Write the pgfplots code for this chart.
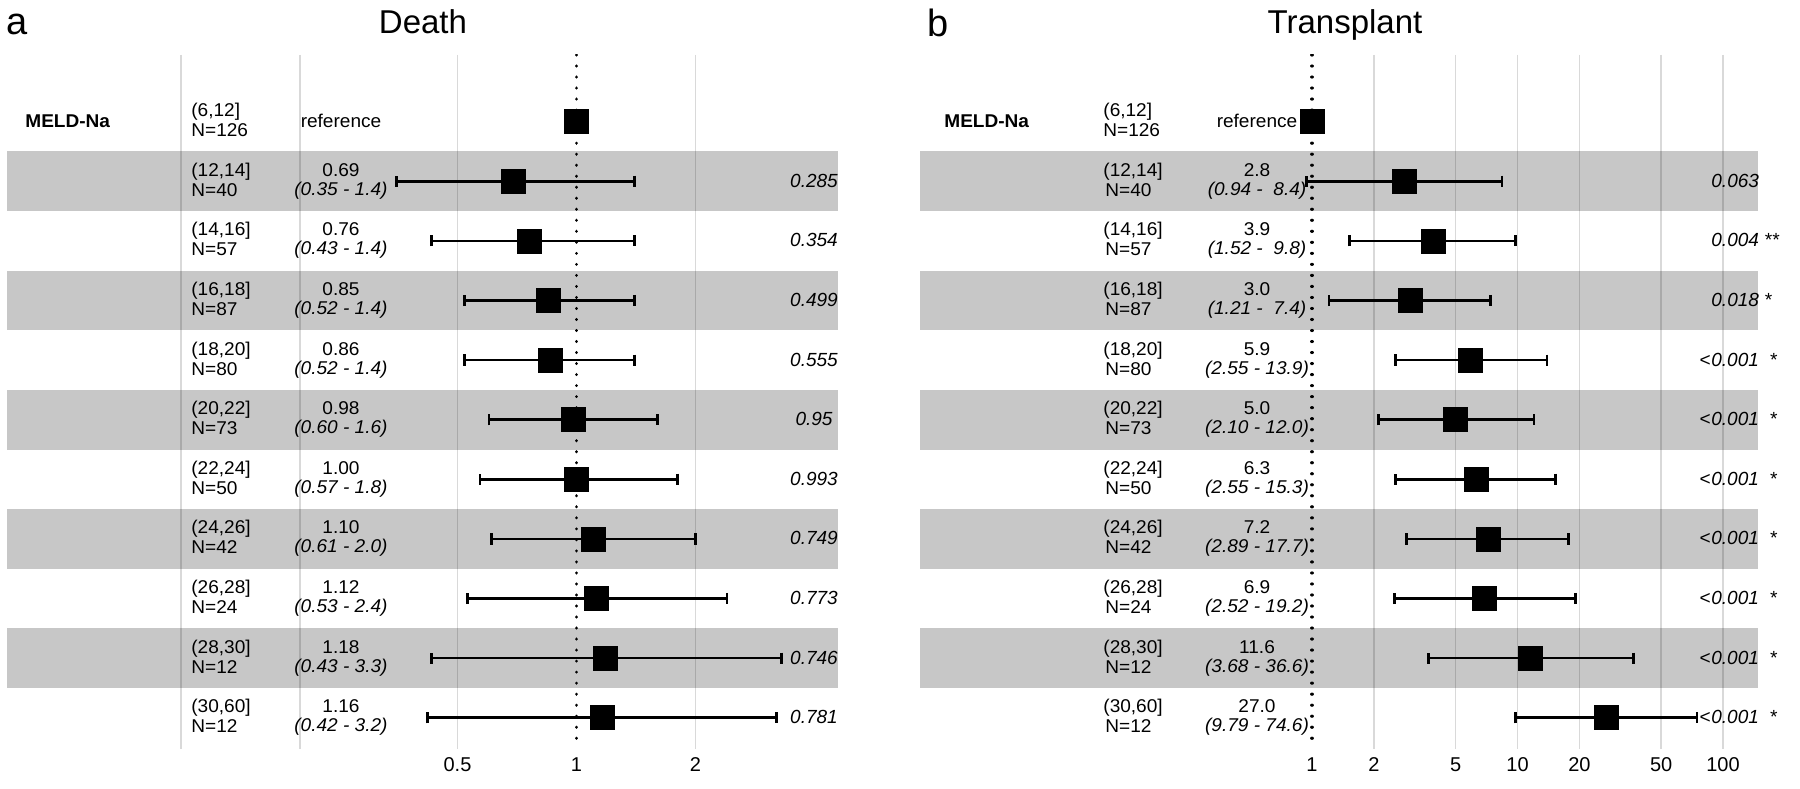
\documentclass[border=0pt]{standalone}
\usepackage{pgfplots}
\pgfplotsset{compat=1.18}
\usepackage{pgfplotstable}
\usepackage{fontspec}
\setmainfont{Liberation Sans}
\newfontfamily\tabfont{Liberation Sans}[FakeStretch=1.03]
\definecolor{band}{gray}{0.78}

\newcommand\tf{\tabfont\fontsize{9.25}{11}\selectfont}
\newcommand\pf{\fontsize{9.5}{11}\selectfont\itshape}

\pgfplotstableread{
y hr lo hi
-1 0.69 0.35 1.4
-2 0.76 0.43 1.4
-3 0.85 0.52 1.4
-4 0.86 0.52 1.4
-5 0.98 0.60 1.6
-6 1.00 0.57 1.8
-7 1.10 0.61 2.0
-8 1.12 0.53 2.4
-9 1.18 0.43 3.3
-10 1.16 0.42 3.2
}\deathtab

\pgfplotstableread{
y hr lo hi
-1 2.8 0.94 8.4
-2 3.9 1.52 9.8
-3 3.0 1.21 7.4
-4 5.9 2.55 13.9
-5 5.0 2.10 12.0
-6 6.3 2.55 15.3
-7 7.2 2.89 17.7
-8 6.9 2.52 19.2
-9 11.6 3.68 36.6
-10 27.0 9.79 74.6
}\transtab

\pgfplotsset{
 forest/.style={
  scale only axis, anchor=south west,
  height=347pt, ymin=-10.525, ymax=1.119,
  axis line style={draw=none}, tick style={draw=none}, major tick length=0pt,
  ytick=\empty,
  xticklabel style={font=\fontsize{10}{12}\selectfont, inner sep=0pt, anchor=center, yshift=-8pt},
 },
 ci/.style={only marks, mark=square*, mark size=6pt,
  mark options={black, fill=black, line width=0.3pt},
  error bars/.cd, x dir=both, x explicit, error mark=|,
  error bar style={black, line width=1.3pt},
  error mark options={black, line width=1.3pt, mark size=2.8pt}},
}
\tikzset{
 gridl/.style={black, opacity=0.15, line width=0.8pt},
 dotl/.style={black, line width=1.6pt, line cap=round, dash pattern=on 0.01pt off 5.5pt},
}

% left-panel row: i, label, N, hr, ci, p
\newcommand\drow[6]{%
 \node[anchor=base west] at (191,{116.7+59.6*#1}) {\tf #2};
 \node[anchor=base west] at (191,{136.7+59.6*#1}) {\tf N=#3};
 \node[anchor=base] at (341,{116.7+59.6*#1}) {\tf #4};
 \node[anchor=base] at (341,{135.7+59.6*#1}) {\tf\itshape #5};
 \node[anchor=base] at (814,{127.7+59.6*#1}) {\pf #6};
}
% right-panel row
\newcommand\trow[6]{%
 \node[anchor=base west] at (1103,{116.7+59.6*#1}) {\tf #2};
 \node[anchor=base west] at (1105,{136.7+59.6*#1}) {\tf N=#3};
 \node[anchor=base] at (1257,{116.7+59.6*#1}) {\tf #4};
 \node[anchor=base] at (1257,{135.7+59.6*#1}) {\tf\itshape #5};
 \node[anchor=base west] at (1711,{127.7+59.6*#1}) {\pf #6};
}
\newcommand\lt{\llap{<\kern0.05em}0.001\hspace{0.55em}*}

\begin{document}
\begin{tikzpicture}
\useasboundingbox (0,0) rectangle (900pt,394pt);

% ---------------- Death ----------------
\begin{axis}[forest, at={(3.5pt,19.5pt)}, width=415.5pt,
  xmode=log, log basis x=2, xmin=0.03625, xmax=4.586,
  xtick={0.5,1,2}, xticklabels={0.5,1,2}]
\fill[band] (axis cs:0.03625,-0.5) rectangle (axis cs:4.586,-1.5);
\fill[band] (axis cs:0.03625,-2.5) rectangle (axis cs:4.586,-3.5);
\fill[band] (axis cs:0.03625,-4.5) rectangle (axis cs:4.586,-5.5);
\fill[band] (axis cs:0.03625,-6.5) rectangle (axis cs:4.586,-7.5);
\fill[band] (axis cs:0.03625,-8.5) rectangle (axis cs:4.586,-9.5);
\draw[gridl] (axis cs:0.1,1.119) -- (axis cs:0.1,-10.525);
\draw[gridl] (axis cs:0.2,1.119) -- (axis cs:0.2,-10.525);
\draw[gridl] (axis cs:0.5,1.119) -- (axis cs:0.5,-10.525);
\draw[gridl] (axis cs:2,1.119) -- (axis cs:2,-10.525);
\draw[dotl] (axis cs:1,1.119) -- (axis cs:1,-10.525);
\addplot[ci] table[x=hr, y=y,
  x error plus expr={\thisrow{hi}-\thisrow{hr}},
  x error minus expr={\thisrow{hr}-\thisrow{lo}}] {\deathtab};
\addplot[only marks, mark=square*, mark size=6pt, mark options={black, fill=black, line width=0.3pt}] coordinates {(1,0)};
\end{axis}

% ---------------- Transplant ----------------
\begin{axis}[forest, at={(460pt,19.5pt)}, width=419pt,
  xmode=log, xmin=0.01237, xmax=148.0,
  xtick={1,2,5,10,20,50,100}, xticklabels={1,2,5,10,20,50,100}]
\fill[band] (axis cs:0.01237,-0.5) rectangle (axis cs:148.0,-1.5);
\fill[band] (axis cs:0.01237,-2.5) rectangle (axis cs:148.0,-3.5);
\fill[band] (axis cs:0.01237,-4.5) rectangle (axis cs:148.0,-5.5);
\fill[band] (axis cs:0.01237,-6.5) rectangle (axis cs:148.0,-7.5);
\fill[band] (axis cs:0.01237,-8.5) rectangle (axis cs:148.0,-9.5);
\draw[gridl] (axis cs:2,1.119) -- (axis cs:2,-10.525);
\draw[gridl] (axis cs:5,1.119) -- (axis cs:5,-10.525);
\draw[gridl] (axis cs:10,1.119) -- (axis cs:10,-10.525);
\draw[gridl] (axis cs:20,1.119) -- (axis cs:20,-10.525);
\draw[gridl] (axis cs:50,1.119) -- (axis cs:50,-10.525);
\draw[gridl] (axis cs:100,1.119) -- (axis cs:100,-10.525);
\draw[dotl] (axis cs:1,1.119) -- (axis cs:1,-10.525);
\addplot[ci] table[x=hr, y=y,
  x error plus expr={\thisrow{hi}-\thisrow{hr}},
  x error minus expr={\thisrow{hr}-\thisrow{lo}}] {\transtab};
\addplot[only marks, mark=square*, mark size=6pt, mark options={black, fill=black, line width=0.3pt}] coordinates {(1,0)};
\end{axis}

% ---------------- texts (pixel grid, origin top-left) ----------------
\begin{scope}[shift={(0pt,394pt)}, x=0.5pt, y=-0.5pt, every node/.style={inner sep=0pt}]
\node[anchor=base west, font=\fontsize{19}{22}\selectfont] at (6,35) {a};
\node[anchor=base, font=\fontsize{16.5}{19}\selectfont] at (423,34) {Death};
\node[anchor=base west, font=\fontsize{19}{22}\selectfont] at (927,37) {b};
\node[anchor=base, font=\fontsize{16.5}{19}\selectfont] at (1345,34) {Transplant};

\node[anchor=base west] at (25,128) {\tf\bfseries MELD-Na};
\node[anchor=base west] at (191,116.7) {\tf (6,12]};
\node[anchor=base west] at (191,136.7) {\tf N=126};
\node[anchor=base] at (341,127.7) {\tf reference};
\drow{1}{(12,14]}{40}{0.69}{(0.35 - 1.4)}{0.285}
\drow{2}{(14,16]}{57}{0.76}{(0.43 - 1.4)}{0.354}
\drow{3}{(16,18]}{87}{0.85}{(0.52 - 1.4)}{0.499}
\drow{4}{(18,20]}{80}{0.86}{(0.52 - 1.4)}{0.555}
\drow{5}{(20,22]}{73}{0.98}{(0.60 - 1.6)}{0.95}
\drow{6}{(22,24]}{50}{1.00}{(0.57 - 1.8)}{0.993}
\drow{7}{(24,26]}{42}{1.10}{(0.61 - 2.0)}{0.749}
\drow{8}{(26,28]}{24}{1.12}{(0.53 - 2.4)}{0.773}
\drow{9}{(28,30]}{12}{1.18}{(0.43 - 3.3)}{0.746}
\drow{10}{(30,60]}{12}{1.16}{(0.42 - 3.2)}{0.781}

\node[anchor=base west] at (944,128) {\tf\bfseries MELD-Na};
\node[anchor=base west] at (1103,116.7) {\tf (6,12]};
\node[anchor=base west] at (1103,136.7) {\tf N=126};
\node[anchor=base] at (1257,127.7) {\tf reference};
\trow{1}{(12,14]}{40}{2.8}{(0.94 -\ \ 8.4)}{0.063}
\trow{2}{(14,16]}{57}{3.9}{(1.52 -\ \ 9.8)}{0.004 **}
\trow{3}{(16,18]}{87}{3.0}{(1.21 -\ \ 7.4)}{0.018 *}
\trow{4}{(18,20]}{80}{5.9}{(2.55 - 13.9)}{\lt}
\trow{5}{(20,22]}{73}{5.0}{(2.10 - 12.0)}{\lt}
\trow{6}{(22,24]}{50}{6.3}{(2.55 - 15.3)}{\lt}
\trow{7}{(24,26]}{42}{7.2}{(2.89 - 17.7)}{\lt}
\trow{8}{(26,28]}{24}{6.9}{(2.52 - 19.2)}{\lt}
\trow{9}{(28,30]}{12}{11.6}{(3.68 - 36.6)}{\lt}
\trow{10}{(30,60]}{12}{27.0}{(9.79 - 74.6)}{\lt}
\end{scope}
\end{tikzpicture}
\end{document}
